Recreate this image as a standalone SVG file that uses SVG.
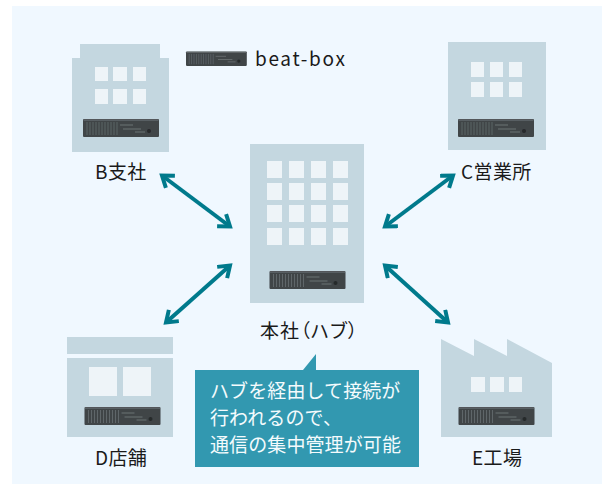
<svg xmlns="http://www.w3.org/2000/svg" width="604" height="485" viewBox="0 0 604 485">
<style>
.b{fill:#c4d7e0}
.w{fill:#eef4f8}
.t{font-family:"Noto Sans CJK JP","Noto Sans",sans-serif;font-size:19px;fill:#1a1a1a}
.c{font-family:"Noto Sans CJK JP","Noto Sans",sans-serif;font-size:19px;letter-spacing:0.1px;fill:#f4fbfd}
.a{fill:none;stroke:#007a8c;stroke-width:4}
</style>
<defs>
<filter id="soft" x="-5%" y="-15%" width="110%" height="130%"><feGaussianBlur stdDeviation="0.6"/></filter>
<g id="srv" filter="url(#soft)">
<rect x="0" y="0" width="76" height="18" rx="1" fill="#3f4447"/>
<rect x="0.5" y="0.5" width="75" height="1.2" fill="#666b6f"/>
<path d="M4 3V16M7 3V16M10 3V16M13 3V16M16 3V16M19 3V16M22 3V16M25 3V16M28 3V16M31 3V16M34 3V16" stroke="#5f6669" stroke-width="1"/>
<path d="M37 6H50M40 10H58M52 13H62" stroke="#6c7275" stroke-width="1"/>
<circle cx="66" cy="12" r="2" fill="#26292b"/>
</g>
<marker id="ah" markerUnits="userSpaceOnUse" markerWidth="18" markerHeight="20" refX="14" refY="9" orient="auto-start-reverse"><path d="M3.500 1.500L14 9L3.500 16.500" fill="none" stroke="#007a8c" stroke-width="4"/></marker>
</defs>
<rect x="0" y="0" width="604" height="485" fill="#fff"/>
<rect x="12" y="6" width="590" height="478" fill="#f0f8ff"/>

<g id="node-b">
<path class="b" d="M80 44H160V58H169V152H72V58H80Z"/>
<path class="w" d="M95 67h13v14h-13zM113 67h14v14h-14zM133 67h13v14h-13zM95 89h13v15h-13zM113 89h14v15h-14zM133 89h13v15h-13z"/>
<use href="#srv" x="83" y="119"/>
<text class="t" x="95" y="178.500" letter-spacing="0.4">B支社</text>
</g>
<g id="node-legend">
<use href="#srv" transform="translate(186 51.5) scale(0.8 0.8)"/>
<text x="255" y="66" font-family="'Noto Sans CJK JP','Noto Sans',sans-serif" font-size="19" letter-spacing="1.7" fill="#1a1a1a">beat-box</text>
</g>
<g id="node-c">
<rect class="b" x="448" y="42" width="98" height="108"/>
<path class="w" d="M471 62h13v15h-13zM490 62h13v15h-13zM509 62h13v15h-13zM471 82h13v15h-13zM490 82h13v15h-13zM509 82h13v15h-13z"/>
<use href="#srv" x="458" y="119"/>
<text class="t" x="461" y="178.500" letter-spacing="0.4">C営業所</text>
</g>
<g id="node-a">
<rect class="b" x="250" y="144" width="114" height="159"/>
<path class="w" d="M267 161h15v17h-15zM289 161h15v17h-15zM311 161h15v17h-15zM333 161h15v17h-15zM267 183h15v17h-15zM289 183h15v17h-15zM311 183h15v17h-15zM333 183h15v17h-15zM267 205h15v17h-15zM289 205h15v17h-15zM311 205h15v17h-15zM333 205h15v17h-15zM267 228h15v17h-15zM289 228h15v17h-15zM311 228h15v17h-15zM333 228h15v17h-15z"/>
<use href="#srv" x="269.500" y="271"/>
<text class="t" x="260" y="337.500" letter-spacing="1.1" style="font-feature-settings:'palt'">本社（ハブ）</text>
</g>
<g id="node-d">
<rect class="b" x="67" y="337" width="106" height="17"/>
<rect class="b" x="67" y="358" width="106" height="79"/>
<path class="w" d="M89 367h28v29h-28zM123 367h28v29h-28z"/>
<use href="#srv" x="84.500" y="407"/>
<text class="t" x="95" y="464.500" letter-spacing="0.4">D店舗</text>
</g>
<g id="node-e">
<path class="b" d="M441 339L474 356V339L507 356V339L552 363V437H441Z"/>
<path class="w" d="M471 377h14v15h-14zM490 377h14v15h-14zM509 377h13v15h-13z"/>
<use href="#srv" x="458.500" y="407"/>
<text class="t" x="472" y="464.500" letter-spacing="0.4">E工場</text>
</g>
<g id="note">
<path d="M195 370H303L316 354V370H419V467H195Z" fill="#3298b0"/>
<text class="c" x="210" y="397.500">ハブを経由して接続が</text>
<text class="c" x="210" y="424.500">行われるので、</text>
<text class="c" x="210" y="451.500">通信の集中管理が可能</text>
</g>
<g id="connectors">
<path class="a" d="M162 175.500L230 226.500" marker-start="url(#ah)" marker-end="url(#ah)"/>
<path class="a" d="M453 175.500L385 226.500" marker-start="url(#ah)" marker-end="url(#ah)"/>
<path class="a" d="M230 265.500L166 322.500" marker-start="url(#ah)" marker-end="url(#ah)"/>
<path class="a" d="M385 265.500L448 322.500" marker-start="url(#ah)" marker-end="url(#ah)"/>
</g>
</svg>
